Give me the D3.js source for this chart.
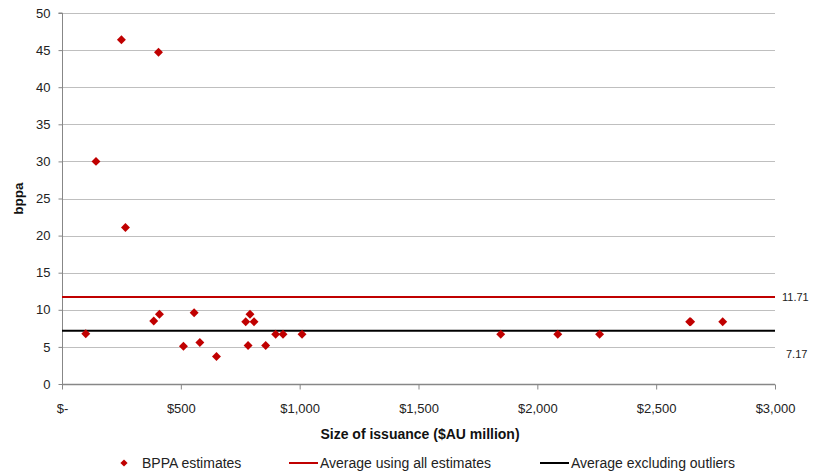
<!DOCTYPE html>
<html>
<head>
<meta charset="utf-8">
<script src="https://cdn.jsdelivr.net/npm/d3@7"></script>
<style>
  html, body { margin: 0; padding: 0; background: #fff; }
  svg { display: block; font-family: "Liberation Sans", Arial, sans-serif; }
</style>
</head>
<body>
<svg id="chart" width="814" height="475"></svg>
<script>
// Issue size ($AU million) and BPPA estimate for each issuance
const issuance = [100, 143, 250, 267, 406, 386, 410, 511, 556, 580, 650, 773, 791, 808, 783, 857, 899, 930, 1010, 1846, 2086, 2262, 2641, 2645, 2780];
const bppa     = [6.77, 30.0, 46.4, 21.1, 44.7, 8.5, 9.4, 5.1, 9.6, 5.6, 3.7, 8.4, 9.4, 8.4, 5.2, 5.2, 6.7, 6.7, 6.7, 6.7, 6.7, 6.7, 8.4, 8.4, 8.4];

// Reference averages
const avgNames  = ["Average using all estimates", "Average excluding outliers"];
const avgValues = [11.71, 7.17];
const avgColors = ["#c00000", "#000000"];

const xTicks = [0, 500, 1000, 1500, 2000, 2500, 3000];
const xTickLabels = ["$-", "$500", "$1,000", "$1,500", "$2,000", "$2,500", "$3,000"];
const yTicks = [0, 5, 10, 15, 20, 25, 30, 35, 40, 45, 50];

const svg = d3.select("#chart");
const plotLeft = 62, plotRight = 775, plotTop = 13, plotBottom = 384;

const x = d3.scaleLinear().domain([0, 3000]).range([plotLeft, plotRight]);
const y = d3.scaleLinear().domain([0, 50]).range([plotBottom, plotTop]);

const red = "#c00000";
const gridColor = "#bfbfbf";
const axisColor = "#878787";

// Horizontal gridlines
svg.append("g")
  .selectAll("line")
  .data(yTicks.filter(d => d > 0))
  .join("line")
  .attr("x1", plotLeft).attr("x2", plotRight)
  .attr("y1", d => Math.round(y(d)) + 0.5).attr("y2", d => Math.round(y(d)) + 0.5)
  .attr("stroke", gridColor).attr("stroke-width", 1);

// Y axis
const yAxis = svg.append("g")
  .attr("transform", `translate(${plotLeft + 0.5},0)`)
  .call(d3.axisLeft(y).tickValues(yTicks).tickSize(4).tickPadding(8).tickFormat(d3.format("d")));
yAxis.select(".domain").attr("stroke", axisColor).attr("d", `M-4,${y(50)}H0V${y(0)}`);
yAxis.selectAll(".tick line").attr("stroke", axisColor);
yAxis.selectAll(".tick text").attr("font-size", 13).attr("fill", "#222")
  .style("font-family", "'Liberation Sans', Arial, sans-serif");

// X axis
const xAxis = svg.append("g")
  .attr("transform", `translate(0,${Math.round(plotBottom) + 0.5})`)
  .call(d3.axisBottom(x).tickValues(xTicks).tickSize(5).tickPadding(14)
    .tickFormat((d, i) => xTickLabels[i]));
xAxis.select(".domain").attr("stroke", axisColor).attr("stroke-width", 1.5).attr("d", `M${plotLeft},0H${plotRight}`);
xAxis.selectAll(".tick line").attr("stroke", axisColor);
xAxis.selectAll(".tick text").attr("font-size", 13).attr("fill", "#222")
  .style("font-family", "'Liberation Sans', Arial, sans-serif");

// Average lines
svg.append("g")
  .selectAll("line")
  .data(avgValues)
  .join("line")
  .attr("x1", plotLeft).attr("x2", plotRight)
  .attr("y1", d => y(d)).attr("y2", d => y(d))
  .attr("stroke", (d, i) => avgColors[i]).attr("stroke-width", 2);

// Value labels on the right of the average lines
svg.append("text").attr("x", 782).attr("y", y(avgValues[0]) + 4)
  .attr("font-size", 11).attr("fill", "#222").text(avgValues[0].toFixed(2));
svg.append("text").attr("x", 786).attr("y", y(avgValues[1]) + 27)
  .attr("font-size", 11).attr("fill", "#222").text(avgValues[1].toFixed(2));

// Scatter points as diamonds
const diamond = d3.symbol().type(d3.symbolSquare).size(40);
svg.append("g")
  .selectAll("path")
  .data(issuance.map((d, i) => [d, bppa[i]]))
  .join("path")
  .attr("d", diamond)
  .attr("transform", d => `translate(${x(d[0])},${y(d[1])}) rotate(45)`)
  .attr("fill", red);

// Axis titles
svg.append("text")
  .attr("transform", `translate(23,${(plotTop + plotBottom) / 2}) rotate(-90)`)
  .attr("text-anchor", "middle").attr("font-size", 13.5).attr("font-weight", "bold")
  .attr("fill", "#111").text("bppa");
svg.append("text")
  .attr("x", 420).attr("y", 439)
  .attr("text-anchor", "middle").attr("font-size", 14).attr("font-weight", "bold")
  .attr("fill", "#111").text("Size of issuance ($AU  million)");

// Legend
const ly = 463;
svg.append("path").attr("d", d3.symbol().type(d3.symbolSquare).size(26))
  .attr("transform", `translate(124,${ly}) rotate(45)`).attr("fill", red);
svg.append("text").attr("x", 142).attr("y", ly + 5).attr("font-size", 14).attr("fill", "#222").text("BPPA estimates");
const legendX = [289, 540];
legendX.forEach((lx, i) => {
  svg.append("line").attr("x1", lx).attr("x2", lx + 29).attr("y1", ly).attr("y2", ly)
    .attr("stroke", avgColors[i]).attr("stroke-width", 2);
  svg.append("text").attr("x", lx + 31).attr("y", ly + 5).attr("font-size", 14).attr("fill", "#222").text(avgNames[i]);
});
</script>
</body>
</html>
